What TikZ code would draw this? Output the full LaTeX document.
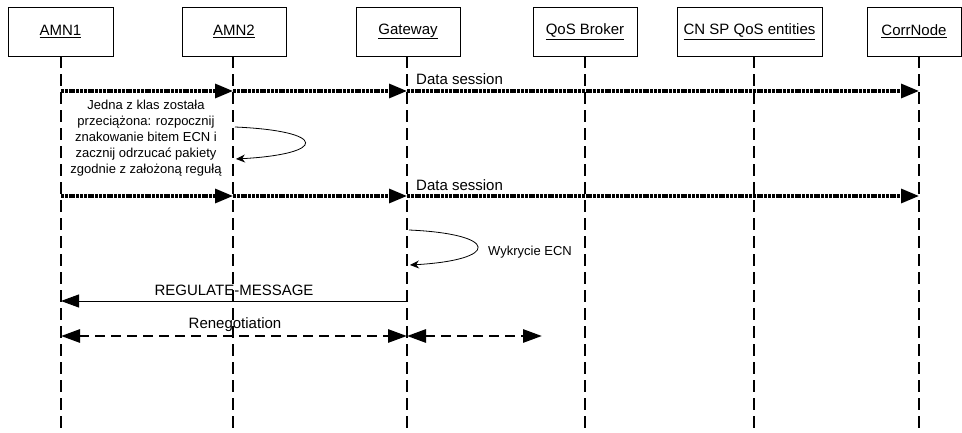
\documentclass[tikz,border=0pt]{standalone}
\usepackage{fontspec}
\setmainfont{Liberation Sans}
\usetikzlibrary{arrows.meta}
\begin{document}
\begin{tikzpicture}[x=1pt,y=-1pt,
  actor/.style={draw=black,line width=0.6pt,minimum height=49pt,inner sep=0pt,font=\fontsize{15}{18}\selectfont},
  lifeline/.style={line width=2.8pt,dash pattern=on 12pt off 6pt},
  datamsg/.style={line width=3.2pt,dash pattern=on 3pt off 0.8pt,-{Triangle[length=18pt,width=14pt]}},
  solidmsg/.style={line width=0.9pt,-{Triangle[length=18pt,width=13pt]}},
  renego/.style={line width=2.8pt,dash pattern=on 10pt off 6pt,{Triangle[length=19pt,width=13pt]}-{Triangle[length=19pt,width=13pt]}},
  selfloop/.style={line width=0.8pt,-{Stealth[length=9pt,width=8pt]}},
  lbl/.style={font=\fontsize{15}{18}\selectfont,inner sep=0pt},
  note/.style={font=\fontsize{13}{16}\selectfont,inner sep=0pt,align=center}]
\useasboundingbox (0,0) rectangle (962,433);
% actors
\node[actor,minimum width=105pt] (amn1) at (60.5,31.5) {\underline{AMN1}};
\node[actor,minimum width=104pt] (amn2) at (234,31.5) {\underline{AMN2}};
\node[actor,minimum width=104pt] (gw) at (408,31.5) {\underline{Gateway}};
\node[actor,minimum width=104pt] (qos) at (585,31.5) {\underline{QoS Broker}};
\node[actor,minimum width=145pt] (cnsp) at (749.5,31.5) {\underline{CN SP QoS entities}};
\node[actor,minimum width=94pt] (corr) at (914,31.5) {\underline{CorrNode}};
% lifeline x positions
\coordinate (l1) at (61,0);
\coordinate (l2) at (233,0);
\coordinate (l3) at (407,0);
\coordinate (l4) at (585,0);
\coordinate (l5) at (754,0);
\coordinate (l6) at (919,0);
\coordinate (bot) at (0,433);
\draw[lifeline] (l1 |- amn1.south) -- (l1 |- bot);
\draw[lifeline] (l2 |- amn2.south) -- (l2 |- bot);
\draw[lifeline] (l3 |- gw.south) -- (l3 |- bot);
\draw[lifeline] (l4 |- qos.south) -- (l4 |- bot);
\draw[lifeline] (l5 |- cnsp.south) -- (l5 |- bot);
\draw[lifeline] (l6 |- corr.south) -- (l6 |- bot);
% message rows
\coordinate (y1) at (0,91);
\coordinate (y2) at (0,196);
\coordinate (y3) at (0,301);
\coordinate (y4) at (0,336);
\coordinate (renend) at (542,336);
% data session 1
\draw[datamsg] (l1 |- y1) -- (l2 |- y1);
\draw[datamsg] (l2 |- y1) -- (l3 |- y1);
\draw[datamsg] (l3 |- y1) -- (l6 |- y1);
\node[lbl,anchor=west] (ds1) at (416,79) {Data session};
% note
\node[note] (n1) at (146,138) {Jedna z klas została\\przeciążona: rozpocznij\\znakowanie bitem ECN i\\zacznij odrzucać pakiety\\zgodnie z założoną regułą};
\coordinate (s1a) at (235,127);
\coordinate (s1b) at (236,159);
\draw[selfloop] (s1a) .. controls (328,131) and (328,154) .. (s1b);
% data session 2
\draw[datamsg] (l1 |- y2) -- (l2 |- y2);
\draw[datamsg] (l2 |- y2) -- (l3 |- y2);
\draw[datamsg] (l3 |- y2) -- (l6 |- y2);
\node[lbl,anchor=west] (ds2) at (416,185) {Data session};
% ECN detection
\coordinate (s2a) at (409,230);
\coordinate (s2b) at (410,265);
\draw[selfloop] (s2a) .. controls (500,234) and (500,260) .. (s2b);
\node[note,anchor=west] (ecn) at (488,252) {Wykrycie ECN};
% regulate
\draw[solidmsg] (l3 |- y3) -- (l1 |- y3);
\node[lbl] (reg) at (234,290) {REGULATE-MESSAGE};
% renegotiation
\draw[renego] (l1 |- y4) -- (l3 |- y4);
\draw[renego] (l3 |- y4) -- (renend);
\node[lbl] (ren) at (235,325) {Renegotiation};
\end{tikzpicture}
\end{document}
